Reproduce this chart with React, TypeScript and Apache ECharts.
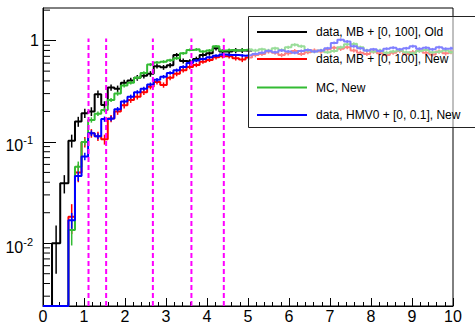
import React, { useEffect, useRef } from "react";
import * as echarts from "echarts";

// ---- data ----
const binEdges = [
  0, 0.22, 0.42, 0.62, 0.78, 0.94, 1.1, 1.26, 1.42, 1.58, 1.74, 1.9, 2.06, 2.22, 2.38, 2.54, 2.7, 2.86,
  3.02, 3.18, 3.34, 3.5, 3.66, 3.82, 3.98, 4.14, 4.3, 4.46, 4.62, 4.78, 4.94, 5.1, 5.26, 5.42, 5.58,
  5.74, 5.9, 6.06, 6.22, 6.38, 6.54, 6.7, 6.86, 7.02, 7.18, 7.34, 7.5, 7.66, 7.82, 7.98, 8.14, 8.3,
  8.46, 8.62, 8.78, 8.94, 9.1, 9.26, 9.42, 9.58, 9.74, 9.9, 10.0,
];

const blackValues = [
  0, 0.01, 0.039,
  0.103, 0.159, 0.192, 0.2, 0.296, 0.232, 0.345, 0.335, 0.385, 0.405,
  0.43, 0.45, 0.47, 0.56, 0.545, 0.57, 0.72, 0.63, 0.62, 0.66,
  0.72, 0.75, 0.84, 0.78, 0.78, 0.8, 0.8, 0.79,
];
const blackErrors = [
  0, 0.005, 0.008,
  0.015, 0.018, 0.02, 0.02, 0.025, 0.02, 0.025, 0.025, 0.025, 0.025,
  0.028, 0.028, 0.03, 0.03, 0.03, 0.03, 0.035, 0.035, 0.035, 0.035,
  0.04, 0.04, 0.04, 0.04, 0.04, 0.045, 0.045, 0.045,
];

const redValues = [
  0, 0, 0,
  0.0183, 0.05, 0.1, 0.122, 0.114, 0.106, 0.17, 0.2, 0.23, 0.26,
  0.28, 0.31, 0.35, 0.39, 0.365, 0.43, 0.47, 0.51, 0.55, 0.575,
  0.62, 0.645, 0.685, 0.7, 0.7, 0.67, 0.65, 0.68,
  0.72, 0.74, 0.78, 0.76, 0.72, 0.75, 0.79, 0.74, 0.77, 0.8,
  0.78, 0.82, 0.85, 0.83, 0.86, 0.8, 0.76, 0.74, 0.78, 0.75,
  0.72, 0.76, 0.79, 0.74, 0.77, 0.8, 0.76, 0.73, 0.78, 0.75, 0.77,
];
const redErrors = [
  0, 0, 0,
  0.006, 0.01, 0.012, 0.012, 0.012, 0.012, 0.014, 0.015, 0.016, 0.017,
  0.018, 0.019, 0.02, 0.022, 0.022, 0.024, 0.025, 0.026, 0.027, 0.028,
  0.03, 0.03, 0.032, 0.032, 0.032, 0.034, 0.036, 0.036,
  0.035, 0.036, 0.036, 0.035, 0.034, 0.036, 0.037, 0.035, 0.036, 0.038,
  0.037, 0.038, 0.04, 0.039, 0.04, 0.038, 0.036, 0.035, 0.037, 0.036,
  0.035, 0.036, 0.038, 0.035, 0.037, 0.038, 0.036, 0.035, 0.037, 0.036, 0.037,
];

const greenValues = [
  0, 0, 0,
  0.0135, 0.057, 0.1, 0.165, 0.19, 0.207, 0.26, 0.3, 0.36, 0.385,
  0.43, 0.48, 0.58, 0.61, 0.62, 0.64, 0.67, 0.75, 0.81, 0.82,
  0.78, 0.8, 0.88, 0.8, 0.81, 0.8, 0.81, 0.82,
  0.8, 0.82, 0.8, 0.84, 0.81, 0.86, 0.91, 0.88, 0.8, 0.78,
  0.8, 0.77, 0.79, 0.86, 0.92, 0.93, 0.86, 0.8, 0.78, 0.8,
  0.76, 0.78, 0.8, 0.77, 0.75, 0.79, 0.81, 0.77, 0.78, 0.8, 0.77,
];
const greenErrors = [
  0, 0, 0,
  0.004, 0.007, 0.008, 0.01, 0.01, 0.011, 0.012, 0.014, 0.015, 0.016,
  0.017, 0.018, 0.02, 0.02, 0.021, 0.022, 0.023, 0.024, 0.025, 0.025,
  0.026, 0.026, 0.027, 0.027, 0.028, 0.028, 0.028, 0.028,
  0.03, 0.03, 0.03, 0.031, 0.03, 0.032, 0.033, 0.032, 0.03, 0.03,
  0.03, 0.029, 0.03, 0.032, 0.034, 0.034, 0.032, 0.03, 0.03, 0.03,
  0.029, 0.03, 0.03, 0.029, 0.029, 0.03, 0.03, 0.029, 0.03, 0.03, 0.029,
];

const blueValues = [
  0, 0, 0,
  0.0169, 0.046, 0.072, 0.122, 0.114, 0.168, 0.17, 0.21, 0.25, 0.28,
  0.31, 0.335, 0.37, 0.41, 0.44, 0.48, 0.51, 0.55, 0.6, 0.635,
  0.66, 0.685, 0.71, 0.73, 0.72, 0.72, 0.71, 0.72,
  0.74, 0.76, 0.79, 0.77, 0.8, 0.78, 0.76, 0.79, 0.81, 0.78,
  0.8, 0.84, 0.95, 1.02, 0.98, 0.88, 0.84, 0.8, 0.82, 0.79,
  0.83, 0.85, 0.82, 0.84, 0.88, 0.83, 0.85, 0.82, 0.86, 0.83, 0.84,
];
const blueErrors = [
  0, 0, 0,
  0.003, 0.005, 0.006, 0.008, 0.008, 0.01, 0.01, 0.011, 0.012, 0.013,
  0.014, 0.015, 0.016, 0.017, 0.018, 0.019, 0.02, 0.02, 0.021, 0.022,
  0.022, 0.023, 0.023, 0.024, 0.024, 0.024, 0.024, 0.025,
  0.026, 0.026, 0.027, 0.026, 0.027, 0.027, 0.026, 0.027, 0.028, 0.027,
  0.027, 0.028, 0.031, 0.033, 0.032, 0.029, 0.028, 0.027, 0.028, 0.027,
  0.028, 0.028, 0.028, 0.028, 0.029, 0.028, 0.028, 0.028, 0.029, 0.028, 0.028,
];

const cutPositions = [1.11, 1.54, 2.68, 3.62, 4.41];
const cutTop = 1.05;

const yMin = 0.0024;
const yMax = 2.1;
const xMin = 0;
const xMax = 10;
const yMinorTicks = [
  0.003, 0.004, 0.005, 0.006, 0.007, 0.008, 0.009,
  0.02, 0.03, 0.04, 0.05, 0.06, 0.07, 0.08, 0.09,
  0.2, 0.3, 0.4, 0.5, 0.6, 0.7, 0.8, 0.9, 2,
];

const legendEntries = [
  { name: "data, MB + [0, 100], Old", color: "#000000" },
  { name: "data, MB + [0, 100], New", color: "#ff0000" },
  { name: "MC, New", color: "#33bb33" },
  { name: "data, HMV0 + [0, 0.1], New", color: "#0000ff" },
];

const FONT = '"Liberation Sans", Arial, Helvetica, sans-serif';

function histLine(values: number[]) {
  const pts: number[][] = values.map((v, i) => [binEdges[i], Math.max(v, yMin)]);
  pts.push([binEdges[values.length], Math.max(values[values.length - 1], yMin)]);
  return pts;
}

function errorData(values: number[], errs: number[]) {
  const out: number[][] = [];
  values.forEach((v, i) => {
    const e = errs[i];
    if (v > 0 && e > 0) {
      out.push([(binEdges[i] + binEdges[i + 1]) / 2, Math.max(v - e, yMin), v + e]);
    }
  });
  return out;
}

function histSeries(values: number[], errs: number[], color: string, z: number) {
  return [
    {
      type: "line",
      step: "end",
      data: histLine(values),
      symbol: "none",
      showSymbol: false,
      lineStyle: { color, width: 2 },
      itemStyle: { color },
      z,
      silent: true,
      clip: true,
    },
    {
      type: "custom",
      data: errorData(values, errs),
      encode: { x: 0, y: [1, 2] },
      z,
      silent: true,
      clip: true,
      renderItem: (params: any, api: any) => {
        const lo = api.coord([api.value(0), api.value(1)]);
        const hi = api.coord([api.value(0), api.value(2)]);
        return {
          type: "line",
          shape: { x1: lo[0], y1: lo[1], x2: hi[0], y2: hi[1] },
          style: { stroke: color, lineWidth: 1.5 },
        };
      },
    },
  ];
}

export default function App() {
  const ref = useRef<HTMLDivElement>(null);

  useEffect(() => {
    if (!ref.current) return;
    const chart = echarts.init(ref.current, null, { renderer: "svg" });

    const legendTop = 16.5;
    const legendLeft = 248.5;
    const rowYs = [32, 59, 87.5, 115];

    const graphics: any[] = [
      {
        type: "rect",
        z: 100,
        silent: true,
        shape: { x: legendLeft, y: legendTop, width: 260, height: 111 },
        style: {
          fill: "rgba(255,255,255,0.5)",
          stroke: "#222",
          lineWidth: 1,
        },
      },
    ];
    legendEntries.forEach((e, i) => {
      graphics.push({
        type: "line",
        z: 101,
        silent: true,
        shape: { x1: 257, y1: rowYs[i], x2: 307, y2: rowYs[i] },
        style: { stroke: e.color, lineWidth: 2 },
      });
      graphics.push({
        type: "text",
        z: 101,
        silent: true,
        x: 316,
        y: rowYs[i],
        style: {
          text: e.name,
          font: `12px ${FONT}`,
          fill: "#000",
          textVerticalAlign: "middle",
          textAlign: "left",
        },
      });
    });

    const option: any = {
      animation: false,
      backgroundColor: "#ffffff",
      textStyle: { fontFamily: FONT },
      grid: {
        left: 43,
        right: 22,
        top: 8,
        bottom: 19,
        show: true,
        borderColor: "#000",
        borderWidth: 1,
        backgroundColor: "transparent",
      },
      xAxis: {
        type: "value",
        min: xMin,
        max: xMax,
        interval: 1,
        axisLine: { show: true, onZero: false, lineStyle: { color: "#000", width: 1 } },
        axisTick: { show: true, inside: true, length: 8, lineStyle: { color: "#000", width: 1 } },
        minorTick: { show: true, splitNumber: 5, length: 4, lineStyle: { color: "#000", width: 1 } },
        splitLine: { show: false },
        minorSplitLine: { show: false },
        axisLabel: { color: "#000", fontSize: 16, fontFamily: FONT, margin: 2 },
      },
      yAxis: {
        type: "log",
        logBase: 10,
        min: yMin,
        max: yMax,
        axisLine: { show: true, onZero: false, lineStyle: { color: "#000", width: 1 } },
        axisTick: { show: true, inside: true, length: 13, lineStyle: { color: "#000", width: 1 } },
        splitLine: { show: false },
        axisLabel: {
          showMinLabel: false,
          showMaxLabel: false,
          margin: 4,
          color: "#000",
          formatter: (v: number) => {
            const e = Math.round(Math.log10(v));
            if (e === 0) return "{one|1}";
            return `{base|10}{exp|${e}}{gap| }`;
          },
          rich: {
            one: { fontSize: 16, fontFamily: FONT, color: "#000" },
            base: { fontSize: 16, fontFamily: FONT, color: "#000", padding: [8, 0, 0, 0] },
            exp: { fontSize: 11, fontFamily: FONT, color: "#000", verticalAlign: "top", padding: [5, 0, 0, 0] },
            gap: { fontSize: 11, width: 6 },
          },
        },
      },
      graphic: graphics,
      series: [
        ...histSeries(blackValues, blackErrors, "#000000", 3),
        ...histSeries(redValues, redErrors, "#ff0000", 4),
        ...histSeries(greenValues, greenErrors, "#33bb33", 5),
        ...histSeries(blueValues, blueErrors, "#0000ff", 6),
        {
          type: "custom",
          data: cutPositions.map((x) => [x, cutTop]),
          encode: { x: 0, y: 1 },
          z: 8,
          silent: true,
          renderItem: (params: any, api: any) => {
            const b = api.coord([api.value(0), yMin]);
            const t = api.coord([api.value(0), api.value(1)]);
            return {
              type: "line",
              shape: { x1: b[0], y1: b[1], x2: t[0], y2: t[1] },
              style: { stroke: "#ff00ff", lineWidth: 2, lineDash: [5, 3] },
            };
          },
        },
        {
          type: "custom",
          data: yMinorTicks.map((v) => [xMin, v]),
          encode: { x: 0, y: 1 },
          z: 9,
          silent: true,
          renderItem: (params: any, api: any) => {
            const p = api.coord([api.value(0), api.value(1)]);
            return {
              type: "line",
              shape: { x1: p[0], y1: p[1], x2: p[0] + 7, y2: p[1] },
              style: { stroke: "#000", lineWidth: 1 },
            };
          },
        },
      ],
    };

    chart.setOption(option);
    return () => {
      chart.dispose();
    };
  }, []);

  return (
    <div
      ref={ref}
      style={{ position: "fixed", left: 0, top: 0, width: 475, height: 325, background: "#fff" }}
    />
  );
}
